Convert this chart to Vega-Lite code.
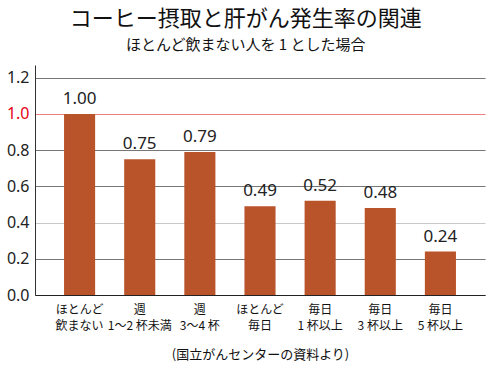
{
  "$schema": "https://vega.github.io/schema/vega-lite/v6.json",
  "autosize": {"type": "none"},
  "padding": {"left": 35, "top": 65, "right": 8, "bottom": 76},
  "width": 450,
  "height": 230,
  "background": "white",
  "config": {
    "view": {"stroke": null},
    "font": "Noto Sans CJK JP"
  },
  "title": {
    "text": "コーヒー摂取と肝がん発生率の関連",
    "subtitle": "ほとんど飲まない人を 1 とした場合",
    "anchor": "middle",
    "frame": "bounds",
    "fontSize": 22,
    "fontWeight": "normal",
    "color": "#111",
    "subtitleFontSize": 15,
    "subtitleColor": "#111",
    "subtitlePadding": 7,
    "offset": 11,
    "font": "Noto Sans CJK JP",
    "subtitleFont": "Noto Sans CJK JP"
  },
  "data": {
    "values": [
      {"group": "ほとんど\n飲まない", "rate": 1.00},
      {"group": "週\n1〜2 杯未満", "rate": 0.75},
      {"group": "週\n3〜4 杯", "rate": 0.79},
      {"group": "ほとんど\n毎日", "rate": 0.49},
      {"group": "毎日\n1 杯以上", "rate": 0.52},
      {"group": "毎日\n3 杯以上", "rate": 0.48},
      {"group": "毎日\n5 杯以上", "rate": 0.24}
    ]
  },
  "encoding": {
    "x": {
      "field": "group",
      "type": "nominal",
      "sort": null,
      "scale": {"paddingInner": 0.483, "paddingOuter": 0.483},
      "axis": {
        "title": "(国立がんセンターの資料より)",
        "titleFontSize": 13,
        "titleFontWeight": "normal",
        "titleColor": "#111",
        "titlePadding": 17,
        "labelAngle": 0,
        "labelExpr": "split(datum.label, '\\n')",
        "labelFontSize": 12,
        "labelLineHeight": 16,
        "labelColor": "#111",
        "labelPadding": 9,
        "ticks": false,
        "domainColor": "#222",
        "domainWidth": 1.2
      }
    },
    "y": {
      "field": "rate",
      "type": "quantitative",
      "scale": {"domain": [0, 1.27], "nice": false},
      "axis": {
        "title": null,
        "values": [0, 0.2, 0.4, 0.6, 0.8, 1.0, 1.2],
        "format": ".1f",
        "labelOverlap": false,
        "labelFontSize": 16,
        "labelFont": "Noto Sans",
        "labelColor": {"expr": "datum.value == 1 ? '#e60012' : '#222'"},
        "labelPadding": 6,
        "ticks": false,
        "domainColor": "#333",
        "domainWidth": 1,
        "gridColor": {"expr": "datum.value == 1 ? '#f08080' : datum.value == 0.4 ? '#c8c8c8' : '#777'"},
        "gridWidth": 1,
        "gridOpacity": 1
      }
    }
  },
  "layer": [
    {
      "mark": {"type": "bar", "color": "#B9532A"}
    },
    {
      "mark": {"type": "text", "baseline": "bottom", "dy": -6, "fontSize": 17, "color": "#222", "font": "Noto Sans"},
      "encoding": {
        "text": {"field": "rate", "type": "quantitative", "format": ".2f"}
      }
    }
  ]
}
